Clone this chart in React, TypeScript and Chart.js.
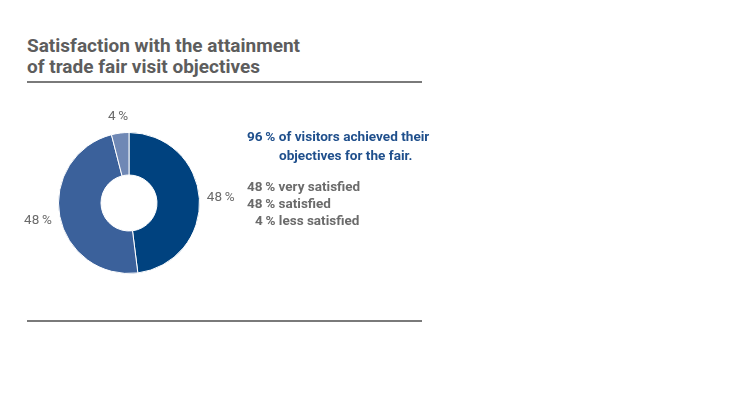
import React, { useEffect, useRef } from "react";
import { Chart, registerables } from "chart.js";

Chart.register(...registerables);

const categories = ["very satisfied", "satisfied", "less satisfied"];
const values = [48, 48, 4];
const sliceColors = ["#00427f", "#3b619b", "#6f88b5"];
const titleLines = ["Satisfaction with the attainment", "of trade fair visit objectives"];
const headline = ["96\u2009% of visitors achieved their", "objectives for the fair."];

const FONT = "Roboto, 'Liberation Sans', Arial, sans-serif";

const labelPlugin = {
  id: "outerLabels",
  afterDatasetsDraw(chart: any) {
    const ctx = chart.ctx;
    const meta = chart.getDatasetMeta(0);
    ctx.save();
    ctx.font = `13.5px ${FONT}`;
    ctx.fillStyle = "#6b6b6b";
    ctx.textAlign = "center";
    ctx.textBaseline = "middle";
    meta.data.forEach((arc: any, i: number) => {
      const text = `${values[i]}\u2009%`;
      const w = ctx.measureText(text).width;
      const mid = (arc.startAngle + arc.endAngle) / 2;
      const c = Math.cos(mid);
      const s = Math.sin(mid);
      const r = arc.outerRadius + 7 + Math.abs(c) * (w / 2) + Math.abs(s) * 8;
      ctx.fillText(text, arc.x + c * r, arc.y + s * r);
    });
    ctx.restore();
  },
};

export default function App() {
  const ref = useRef<HTMLCanvasElement>(null);
  useEffect(() => {
    if (!ref.current) return;
    const chart = new Chart(ref.current, {
      type: "doughnut",
      data: {
        labels: categories,
        datasets: [
          {
            data: values,
            backgroundColor: sliceColors,
            borderColor: "#ffffff",
            borderWidth: 1,
          },
        ],
      },
      options: {
        animation: false,
        responsive: false,
        cutout: 28,
        layout: { padding: 49 },
        plugins: { legend: { display: false }, tooltip: { enabled: false } },
      },
      plugins: [labelPlugin],
    });
    return () => chart.destroy();
  }, []);

  const rule: React.CSSProperties = {
    position: "absolute",
    left: 27,
    width: 395,
    height: 2,
    background: "#7a7a7a",
  };

  return (
    <div style={{ position: "absolute", left: 0, top: 0, width: 740, height: 416, background: "#fff", fontFamily: FONT }}>
      <div
        style={{
          position: "absolute",
          left: 27,
          top: 35,
          fontSize: 19,
          lineHeight: "21px",
          fontWeight: 700,
          color: "#5d5d5d",
          whiteSpace: "nowrap",
        }}
      >
        {titleLines.map((l, i) => (
          <div key={i}>{l}</div>
        ))}
      </div>
      <div style={{ ...rule, top: 81 }} />
      <canvas ref={ref} width={240} height={240} style={{ position: "absolute", left: 9, top: 83, width: 240, height: 240 }} />
      <div
        style={{
          position: "absolute",
          left: 247,
          top: 127,
          fontSize: 13.6,
          lineHeight: "19px",
          fontWeight: 700,
          color: "#1f4f8c",
          whiteSpace: "nowrap",
        }}
      >
        <div>{headline[0]}</div>
        <div style={{ paddingLeft: 32 }}>{headline[1]}</div>
      </div>
      <div
        style={{
          position: "absolute",
          left: 247,
          top: 178,
          fontSize: 13.5,
          lineHeight: "17px",
          fontWeight: 700,
          color: "#6b6b6b",
          whiteSpace: "nowrap",
        }}
      >
        {categories.map((c, i) => (
          <div key={i} style={{ paddingLeft: values[i] < 10 ? 8 : 0 }}>
            {`${values[i]}\u2009% ${c}`}
          </div>
        ))}
      </div>
      <div style={{ ...rule, top: 320 }} />
    </div>
  );
}
